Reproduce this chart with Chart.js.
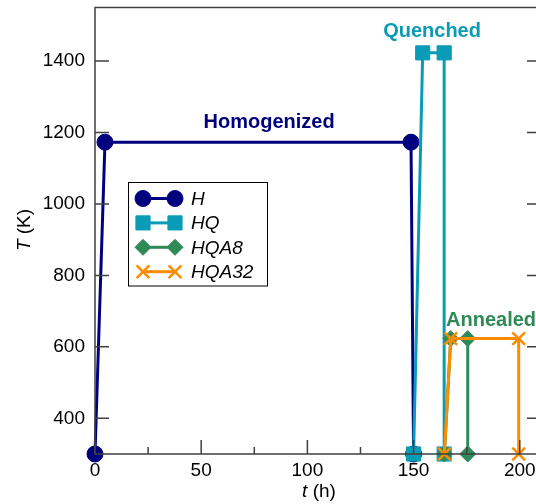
<!DOCTYPE html>
<html>
<head>
<meta charset="utf-8">
<script src="https://cdn.jsdelivr.net/npm/chart.js@4"></script>
<style>
  body { margin: 0; overflow: hidden; background: #fff; }
  #wrap { width: 560px; height: 504px; overflow: hidden; }
  #chart { display: block; margin-top: -4px; }
</style>
</head>
<body>
<div id="wrap"><canvas id="chart" width="560" height="508"></canvas></div>
<script>
// time (h) and temperature (K) for each heat treatment
const hTime = [0, 4.7, 148.8, 150];
const hTemp = [300, 1173, 1173, 300];
const hqTime = [150, 154.3, 164.4, 164.4];
const hqTemp = [300, 1423, 1423, 300];
const hqa8Time = [164.5, 167.5, 175.5, 175.5];
const hqa8Temp = [300, 623, 623, 300];
const hqa32Time = [164.5, 167.5, 199.5, 199.5];
const hqa32Temp = [300, 623, 623, 300];

const seriesNames = ["H", "HQ", "HQA8", "HQA32"];
const xTicks = [0, 25, 50, 75, 100, 125, 150, 175, 200];
const yTicks = [400, 600, 800, 1000, 1200, 1400];

const NAVY = "#00007f";
const TEAL = "#0a9bb6";
const GREEN = "#2e8b57";
const ORANGE = "#ff8c00";
const FONT = "'Liberation Sans', Arial, sans-serif";
const OFF = 4; // canvas is shifted up by this much

const toPoints = (xs, ys) => xs.map((x, i) => ({ x: x, y: ys[i] }));

const makeSet = (label, xs, ys, color, style, radius, order) => ({
  label: label,
  data: toPoints(xs, ys),
  borderColor: color,
  backgroundColor: color,
  pointBackgroundColor: color,
  pointBorderColor: color,
  pointStyle: style,
  pointRadius: radius,
  pointHoverRadius: radius,
  pointBorderWidth: style === "crossRot" ? 2.5 : 1,
  borderWidth: 3,
  showLine: true,
  tension: 0,
  clip: false,
  order: order,
});

// frame, inward ticks, axis titles, text labels, legend
const decorations = {
  id: "decorations",
  afterDraw(chart) {
    const ctx = chart.ctx;
    const { left, right, top, bottom } = chart.chartArea;
    const xs = chart.scales.x;
    const ys = chart.scales.y;
    ctx.save();
    ctx.strokeStyle = "#404040";
    ctx.lineWidth = 1.5;
    ctx.strokeRect(left, top, right - left, bottom - top);

    ctx.beginPath();
    xTicks.forEach((v) => {
      const px = xs.getPixelForValue(v);
      const len = v % 50 === 0 ? 14 : 7;
      ctx.moveTo(px, bottom);
      ctx.lineTo(px, bottom - len);
    });
    yTicks.forEach((v) => {
      const py = ys.getPixelForValue(v);
      ctx.moveTo(left, py);
      ctx.lineTo(left + 14, py);
      ctx.moveTo(right, py);
      ctx.lineTo(right - 14, py);
    });
    ctx.stroke();

    // axis titles
    ctx.fillStyle = "#000";
    ctx.textBaseline = "middle";
    ctx.textAlign = "left";
    const drawTitle = (italic, rest, x, y) => {
      ctx.font = "italic 19px " + FONT;
      const w1 = ctx.measureText(italic).width;
      ctx.font = "19px " + FONT;
      const w2 = ctx.measureText(rest).width;
      const start = x - (w1 + w2) / 2;
      ctx.font = "italic 19px " + FONT;
      ctx.fillText(italic, start, y);
      ctx.font = "19px " + FONT;
      ctx.fillText(rest, start + w1, y);
    };
    drawTitle("t", " (h)", 319, 492 + OFF);
    ctx.save();
    ctx.translate(25, 230 + OFF);
    ctx.rotate(-Math.PI / 2);
    drawTitle("T", " (K)", 0, 0);
    ctx.restore();

    // stage labels
    ctx.font = "bold 20px " + FONT;
    ctx.textAlign = "center";
    ctx.fillStyle = NAVY;
    ctx.fillText("Homogenized", xs.getPixelForValue(82), ys.getPixelForValue(1229));
    ctx.fillStyle = TEAL;
    ctx.fillText("Quenched", xs.getPixelForValue(158.7), ys.getPixelForValue(1483));
    ctx.textAlign = "left";
    ctx.fillStyle = GREEN;
    ctx.fillText("Annealed", xs.getPixelForValue(165.3), ys.getPixelForValue(675));

    // legend
    const lx = 128.5, ly = 182.5 + OFF;
    ctx.fillStyle = "#fff";
    ctx.fillRect(lx, ly, 139, 103.5);
    ctx.strokeStyle = "#000";
    ctx.lineWidth = 1;
    ctx.strokeRect(lx, ly, 139, 103.5);
    chart.data.datasets.forEach((ds, i) => {
      const y = ly + 16 + i * 24.4;
      ctx.strokeStyle = ds.borderColor;
      ctx.lineWidth = 3;
      ctx.beginPath();
      ctx.moveTo(143, y);
      ctx.lineTo(175, y);
      ctx.stroke();
      const opts = {
        pointStyle: ds.pointStyle,
        radius: ds.pointRadius,
        borderWidth: ds.pointBorderWidth,
      };
      ctx.fillStyle = ds.backgroundColor;
      ctx.lineWidth = ds.pointBorderWidth;
      Chart.helpers.drawPoint(ctx, opts, 143, y);
      Chart.helpers.drawPoint(ctx, opts, 175, y);
      ctx.fillStyle = "#000";
      ctx.font = "italic 19px " + FONT;
      ctx.textAlign = "left";
      ctx.textBaseline = "middle";
      ctx.fillText(ds.label, 191, y + 1);
    });
    ctx.restore();
  },
};

new Chart(document.getElementById("chart"), {
  type: "scatter",
  data: {
    datasets: [
      makeSet(seriesNames[0], hTime, hTemp, NAVY, "circle", 8, 3),
      makeSet(seriesNames[1], hqTime, hqTemp, TEAL, "rect", 10, 2),
      makeSet(seriesNames[2], hqa8Time, hqa8Temp, GREEN, "rectRot", 8, 1),
      makeSet(seriesNames[3], hqa32Time, hqa32Temp, ORANGE, "crossRot", 9, 0),
    ],
  },
  options: {
    responsive: false,
    animation: false,
    events: [],
    layout: { padding: { top: 7, right: 19, left: 0, bottom: 0 } },
    plugins: { legend: { display: false }, tooltip: { enabled: false } },
    scales: {
      x: {
        type: "linear",
        min: 0,
        max: 210,
        grid: { display: false, drawTicks: false },
        border: { display: false },
        afterBuildTicks: (scale) => {
          scale.ticks = xTicks.map((v) => ({ value: v }));
        },
        afterFit: (scale) => {
          scale.height = 50;
          scale.paddingLeft = 0;
          scale.paddingRight = 0;
        },
        ticks: {
          padding: 5,
          maxRotation: 0,
          autoSkip: false,
          color: "#000",
          font: { family: FONT, size: 19 },
          callback: (v) => (v % 50 === 0 ? String(v) : ""),
        },
      },
      y: {
        type: "linear",
        min: 300,
        max: 1550,
        grid: { display: false, drawTicks: false },
        border: { display: false },
        afterBuildTicks: (scale) => {
          scale.ticks = yTicks.map((v) => ({ value: v }));
        },
        afterFit: (scale) => {
          scale.width = 95;
          scale.paddingTop = 0;
          scale.paddingBottom = 0;
        },
        ticks: {
          padding: 10,
          autoSkip: false,
          color: "#000",
          font: { family: FONT, size: 19 },
          callback: (v) => String(v),
        },
      },
    },
  },
  plugins: [decorations],
});
</script>
</body>
</html>
